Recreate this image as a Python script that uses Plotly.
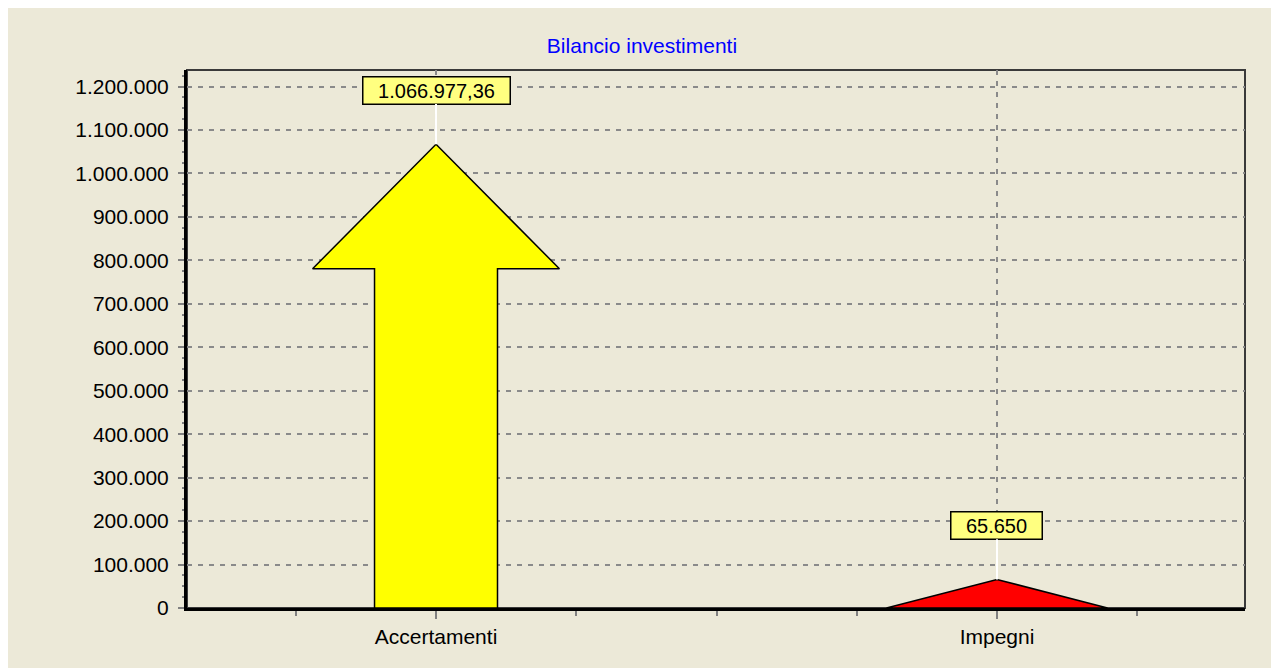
import plotly.graph_objects as go

# ---- data ----
categories = ["Accertamenti", "Impegni"]
values = [1066977.36, 65650.0]
shapes_kind = ["arrow", "triangle"]
fill_colors = ["#FFFF00", "#FF0000"]
title_text = "Bilancio investimenti"


def it_format(v):
    s = f"{v:,.2f}".replace(",", "X").replace(".", ",").replace("X", ".")
    if s.endswith(",00"):
        s = s[:-3]
    return s


FONT = "Liberation Sans, Arial, sans-serif"
FS = 21
BG = "#ECE9D8"
GRID = "#8A8A8A"

fig = go.Figure()

for i, (cat, v, kind, col) in enumerate(zip(categories, values, shapes_kind, fill_colors)):
    xc = i
    if kind == "arrow":
        sw, hw, hb = 0.1096, 0.220, 0.7317
        xs = [xc - sw, xc - sw, xc - hw, xc, xc + hw, xc + sw, xc + sw, xc - sw]
        ys = [0, v * hb, v * hb, v, v * hb, v * hb, 0, 0]
    else:
        hw = 0.197
        xs = [xc - hw, xc, xc + hw, xc - hw]
        ys = [0, v, 0, 0]
    fig.add_trace(go.Scatter(
        x=xs, y=ys, mode="lines", fill="toself", fillcolor=col,
        line=dict(color="#000000", width=1.5), name=cat, showlegend=False,
        hoverinfo="skip"))
    txt = it_format(v)
    ndig = sum(ch.isdigit() for ch in txt)
    npun = len(txt) - ndig
    fig.add_annotation(
        x=xc, y=v, xref="x", yref="y", text=txt, showarrow=True,
        ax=0, ay=-54, arrowhead=0, arrowwidth=2, arrowcolor="#FFFFFF",
        standoff=0, startstandoff=0,
        bgcolor="#FFFF80", bordercolor="#000000", borderwidth=1.5, borderpad=1,
        width=round(11.2 * ndig + 5.8 * npun + 26), height=24,
        font=dict(family=FONT, size=FS - 1, color="#000000"))

# plot frame (top / right borders)
fig.add_shape(type="rect", xref="paper", yref="paper", x0=0, x1=1, y0=0, y1=1,
              line=dict(color="#3A3A3A", width=2), layer="below")

fig.update_layout(
    width=1279, height=668,
    margin=dict(l=179, r=42, t=62, b=68, pad=0),
    paper_bgcolor=BG, plot_bgcolor=BG,
    separators=",.",
    font=dict(family=FONT, size=FS, color="#000000"),
    title=dict(text=title_text, x=(642 - 8) / 1279, xref="container", xanchor="center",
               y=1 - 38 / 668, yref="container", yanchor="middle",
               font=dict(family=FONT, size=FS, color="#0000FF")),
    showlegend=False,
)

fig.update_xaxes(
    range=[-0.4439, 1.4421], tickmode="array", tickvals=list(range(len(categories))),
    ticktext=categories, ticks="outside", ticklen=8, tickcolor="#808080", tickwidth=1.5,
    showgrid=True, gridcolor=GRID, griddash="5px,6px", gridwidth=1.5,
    showline=True, linecolor="#000000", linewidth=3, zeroline=False,
    minor=dict(tickmode="linear", tick0=0, dtick=0.25, ticks="outside", ticklen=5,
               tickcolor="#808080", tickwidth=1.5, showgrid=False),
    tickfont=dict(family=FONT, size=FS, color="#000000"),
    fixedrange=True,
)
fig.update_yaxes(
    range=[0, 1238000], dtick=100000, tick0=0, tickformat=",d",
    ticks="outside", ticklen=6, tickcolor="#808080", tickwidth=1.5,
    showgrid=True, gridcolor=GRID, griddash="5px,6px", gridwidth=1.5,
    showline=True, linecolor="#000000", linewidth=3, zeroline=False,
    minor=dict(tickmode="linear", tick0=0, dtick=25000, ticks="outside", ticklen=2,
               tickcolor="#808080", tickwidth=1.5, showgrid=False),
    tickfont=dict(family=FONT, size=FS, color="#000000"),
    ticklabelstandoff=5,
    fixedrange=True,
)

fig.write_html("out.html", config={"displayModeBar": False})
